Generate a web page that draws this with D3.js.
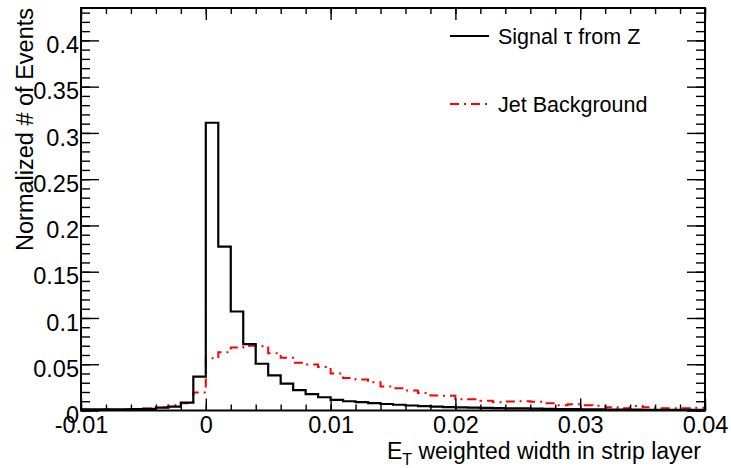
<!DOCTYPE html>
<html>
<head>
<meta charset="utf-8">
<script src="https://cdnjs.cloudflare.com/ajax/libs/d3/7.8.5/d3.min.js"></script>
<style>
  body { margin: 0; background: #fff; }
  text { font-family: "Liberation Sans", Arial, Helvetica, sans-serif; }
</style>
</head>
<body>
<script>
// histogram: 50 bins of width 0.001 from -0.01 to 0.04
const binLow = -0.01, binWidth = 0.001;
const signal = [
  0.0012, 0.0012, 0.0013, 0.0013, 0.0015, 0.0017, 0.0030, 0.0042, 0.0085, 0.0366,
  0.311, 0.177, 0.107, 0.0718, 0.0505, 0.038, 0.029, 0.022, 0.0178, 0.0143,
  0.0114, 0.0100, 0.0090, 0.0079, 0.0070, 0.0062, 0.0054, 0.0047, 0.0041, 0.0036,
  0.0033, 0.0030, 0.0028, 0.0026, 0.0024, 0.0022, 0.0020, 0.0018, 0.0016, 0.0014,
  0.0013, 0.0012, 0.0011, 0.0010, 0.0009, 0.0008, 0.0008, 0.0007, 0.0007, 0.0006
];
const background = [
  0.0008, 0.0009, 0.0010, 0.0012, 0.0015, 0.0022, 0.0035, 0.0058, 0.0078, 0.0195,
  0.0564, 0.0630, 0.0680, 0.0700, 0.0695, 0.0620, 0.0570, 0.0515, 0.0497, 0.0470,
  0.0400, 0.0350, 0.0335, 0.0305, 0.0260, 0.0240, 0.0215, 0.0188, 0.0162, 0.0160,
  0.0122, 0.0121, 0.0106, 0.0090, 0.0097, 0.0100, 0.0095, 0.0078, 0.0058, 0.0067,
  0.0056, 0.0052, 0.0034, 0.0025, 0.0048, 0.0034, 0.0025, 0.0025, 0.0025, 0.0030
];
const xTicks = [-0.01, 0, 0.01, 0.02, 0.03, 0.04];
const yTicks = [0, 0.05, 0.1, 0.15, 0.2, 0.25, 0.3, 0.35, 0.4];
const legendNames = ["Signal \u03c4 from Z", "Jet Background"];

const width = 731, height = 468;
const margin = {left: 81, right: 26, top: 8, bottom: 57.5};

var svg = d3.select("body")
  .append("svg")
  .attr("width", width)
  .attr("height", height);

const xScale = d3.scaleLinear().domain([-0.01, 0.04]).range([margin.left, width - margin.right]);
const yScale = d3.scaleLinear().domain([0, 0.435]).range([height - margin.bottom, margin.top]);

// plain hyphen for negatives, like the original
const fmt = d => d === 0 ? "0" : String(+d.toFixed(3));

// step outline, like ROOT "HIST"
function stepPath(vals) {
  let pts = [];
  vals.forEach((v, i) => {
    const x0 = binLow + i * binWidth;
    pts.push([xScale(x0), yScale(v)]);
    pts.push([xScale(x0 + binWidth), yScale(v)]);
  });
  return d3.line()(pts);
}

svg.append("path")
  .attr("d", stepPath(background))
  .attr("fill", "none")
  .attr("stroke", "#ff0000")
  .attr("stroke-width", 2)
  .attr("stroke-dasharray", "9,5,2,5");

svg.append("path")
  .attr("d", stepPath(signal))
  .attr("fill", "none")
  .attr("stroke", "#000")
  .attr("stroke-width", 2.2);

// minor ticks
const xMinor = d3.range(-0.01, 0.0401, 0.002);
const yMinor = d3.range(0, 0.431, 0.01);
const bottomY = height - margin.bottom;

svg.append("g").attr("transform", `translate(0,${bottomY})`)
  .call(d3.axisBottom(xScale).tickValues(xMinor).tickSize(-6).tickFormat(""));
svg.append("g").attr("transform", `translate(0,${margin.top})`)
  .call(d3.axisTop(xScale).tickValues(xMinor).tickSize(-6).tickFormat(""));
svg.append("g").attr("transform", `translate(${margin.left},0)`)
  .call(d3.axisLeft(yScale).tickValues(yMinor).tickSize(-9).tickFormat(""));
svg.append("g").attr("transform", `translate(${width - margin.right},0)`)
  .call(d3.axisRight(yScale).tickValues(yMinor).tickSize(-9).tickFormat(""));

// major ticks
svg.append("g").attr("class", "x axis").attr("transform", `translate(0,${bottomY})`)
  .call(d3.axisBottom(xScale).tickValues(xTicks).tickSize(-12).tickPadding(6).tickFormat(fmt));
svg.append("g").attr("transform", `translate(0,${margin.top})`)
  .call(d3.axisTop(xScale).tickValues(xTicks).tickSize(-12).tickFormat(""));
svg.append("g").attr("class", "y axis").attr("transform", `translate(${margin.left},0)`)
  .call(d3.axisLeft(yScale).tickValues(yTicks).tickSize(-18).tickPadding(2).tickFormat(fmt));
svg.append("g").attr("transform", `translate(${width - margin.right},0)`)
  .call(d3.axisRight(yScale).tickValues(yTicks).tickSize(-18).tickFormat(""));

svg.selectAll(".domain").remove();
svg.selectAll(".tick line").attr("stroke", "#000").attr("stroke-width", 1.4);
svg.selectAll(".axis text")
  .attr("font-size", 23.5)
  .attr("fill", "#000")
  .style("font-family", "'Liberation Sans', Arial, sans-serif");
svg.selectAll(".y.axis text").attr("dy", "0.52em");
svg.selectAll(".x.axis text").attr("dy", "0.69em");

// frame
svg.append("rect")
  .attr("x", margin.left).attr("y", margin.top)
  .attr("width", width - margin.left - margin.right)
  .attr("height", bottomY - margin.top)
  .attr("fill", "none").attr("stroke", "#000").attr("stroke-width", 2);

// axis titles
const xTitle = svg.append("text")
  .attr("x", 701).attr("y", 459)
  .attr("text-anchor", "end")
  .attr("font-size", 23);
xTitle.append("tspan").text("E");
xTitle.append("tspan").attr("font-size", 16).attr("dy", 6).text("T");
xTitle.append("tspan").attr("dy", -6).text(" weighted width in strip layer");

svg.append("text")
  .attr("transform", "translate(33,8) rotate(-90)")
  .attr("text-anchor", "end")
  .attr("font-size", 23.5)
  .text("Normalized # of Events");

// legend
const legend = svg.selectAll(".legendItem")
  .data(legendNames).enter().append("g")
  .attr("class", "legendItem")
  .attr("transform", (d, i) => `translate(0,${i === 0 ? 36 : 104})`);

legend.append("line")
  .attr("x1", 450).attr("x2", 489)
  .attr("stroke", (d, i) => i === 0 ? "#000" : "#ff0000")
  .attr("stroke-width", 2)
  .attr("stroke-dasharray", (d, i) => i === 0 ? null : "9,5,2,5");

legend.append("text")
  .attr("x", 498).attr("y", 7.5)
  .attr("font-size", 21.5)
  .text(d => d);
</script>
</body>
</html>
